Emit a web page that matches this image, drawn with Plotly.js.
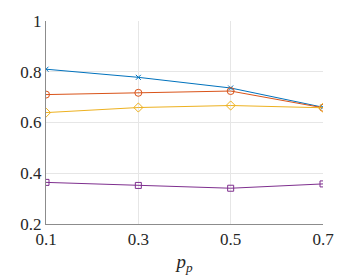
<!DOCTYPE html>
<html><head><meta charset="utf-8">
<script src="https://cdn.plot.ly/plotly-3.0.1.min.js"></script>
<style>html,body{margin:0;padding:0;background:#fff;}#c{width:359px;height:275px;}</style>
</head><body><div id="c"></div>
<script>
const pp = [0.1, 0.3, 0.5, 0.7];
const seriesBlue = [0.810, 0.778, 0.736, 0.660];
const seriesRed = [0.710, 0.717, 0.724, 0.658];
const seriesYellow = [0.639, 0.659, 0.667, 0.658];
const seriesPurple = [0.364, 0.352, 0.341, 0.358];
const xTicks = [0.1, 0.3, 0.5, 0.7];
const yTicks = [0.2, 0.4, 0.6, 0.8, 1];

function tr(y, color, symbol, size) {
  return {x: pp, y: y, type: 'scatter', mode: 'lines+markers',
    line: {color: color, width: 1},
    marker: {symbol: symbol, size: size, color: color, line: {color: color, width: 1}},
    showlegend: false};
}
const data = [
  tr(seriesBlue, '#0072BD', 'x-thin-open', 5),
  tr(seriesRed, '#D95319', 'circle-open', 7),
  tr(seriesYellow, '#EDB120', 'diamond-open', 7),
  tr(seriesPurple, '#7E2F8E', 'square-open', 6)
];
const layout = {
  width: 359, height: 275,
  margin: {l: 46, r: 36, t: 21, b: 51},
  paper_bgcolor: '#fff', plot_bgcolor: '#fff',
  font: {family: 'Liberation Serif', size: 17, color: '#262626'},
  xaxis: {range: [0.1, 0.7], tickvals: xTicks, ticktext: ['0.1','0.3','0.5','0.7'],
    showgrid: true, gridcolor: '#e6e6e6', gridwidth: 1, zeroline: false,
    showline: true, linecolor: '#8c8c8c', linewidth: 1,
    ticks: '',
    tickfont: {family: 'Liberation Serif', size: 17, color: '#262626'},
    title: {text: '<i>p</i><sub><i>p</i></sub>', font: {family: 'Liberation Serif', size: 19, color: '#262626'}, standoff: 8}},
  yaxis: {range: [0.2, 1], tickvals: yTicks, ticktext: ['0.2','0.4','0.6','0.8','1'],
    showgrid: true, gridcolor: '#e6e6e6', gridwidth: 1, zeroline: false,
    showline: true, linecolor: '#8c8c8c', linewidth: 1,
    ticks: '',
    tickfont: {family: 'Liberation Serif', size: 17, color: '#262626'}}
};
Plotly.newPlot('c', data, layout, {displayModeBar: false}).then(function(){
  document.querySelectorAll('#c text').forEach(function(t){
    t.style.fontFamily = '"Liberation Serif", serif';
  });
});
</script></body></html>
